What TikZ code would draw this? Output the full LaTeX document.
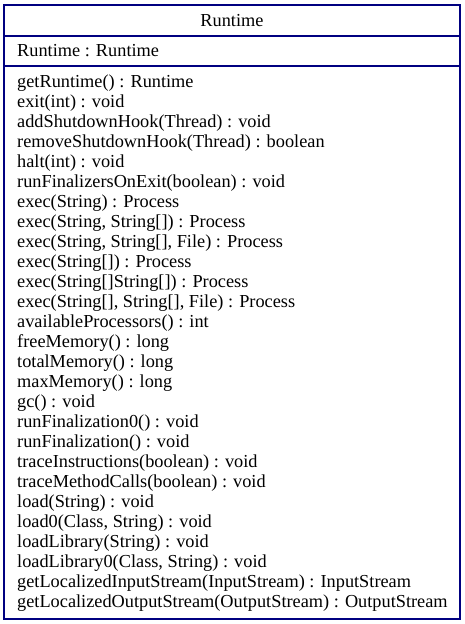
\documentclass[tikz,border=0pt]{standalone}
\usepackage{fontspec}
\setmainfont{Liberation Serif}
\definecolor{umlnavy}{HTML}{000080}
\begin{document}
\begin{tikzpicture}[x=1pt,y=-1pt,
  txt/.style={anchor=west,inner sep=0pt,font=\fontsize{18.3}{20}\selectfont},
  ttl/.style={inner sep=0pt,font=\fontsize{18.3}{20}\selectfont}]
\useasboundingbox (0,0) rectangle (465,624);
\draw[umlnavy,line width=1.2pt] (4,5) rectangle (460,619);
\draw[umlnavy,line width=1.2pt] (4,36) -- (460,36);
\draw[umlnavy,line width=1.2pt] (4,66) -- (460,66);
\node[ttl] (title) at (232,21) {Runtime};
\node[txt] (attr) at (17,51) {Runtime : Runtime};
\foreach \t [count=\i from 0] in {%
getRuntime() : Runtime,
exit(int) : void,
addShutdownHook(Thread) : void,
removeShutdownHook(Thread) : boolean,
halt(int) : void,
runFinalizersOnExit(boolean) : void,
exec(String) : Process,
{exec(String, String[]) : Process},
{exec(String, String[], File) : Process},
exec(String[]) : Process,
exec(String[]String[]) : Process,
{exec(String[], String[], File) : Process},
availableProcessors() : int,
freeMemory() : long,
totalMemory() : long,
maxMemory() : long,
gc() : void,
runFinalization0() : void,
runFinalization() : void,
traceInstructions(boolean) : void,
traceMethodCalls(boolean) : void,
load(String) : void,
{load0(Class, String) : void},
loadLibrary(String) : void,
{loadLibrary0(Class, String) : void},
getLocalizedInputStream(InputStream) : InputStream,
getLocalizedOutputStream(OutputStream) : OutputStream}
{\node[txt] (m\i) at (17,83+20*\i) {\t};}
\end{tikzpicture}
\end{document}
